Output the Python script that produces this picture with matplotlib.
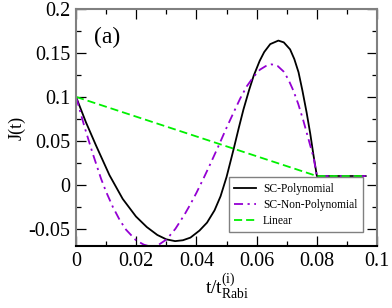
import numpy as np
import matplotlib
matplotlib.use("Agg")
import matplotlib.pyplot as plt
from matplotlib.ticker import MultipleLocator

plt.rcParams['font.family'] = ['Liberation Serif', 'DejaVu Serif']
plt.rcParams['mathtext.fontset'] = 'custom'
plt.rcParams['mathtext.rm'] = 'Liberation Serif'

# values
t_poly = [0, 0.0033, 0.0066, 0.0111, 0.0155, 0.0199, 0.0235, 0.0270, 0.0300,
          0.0329, 0.0355, 0.0380, 0.0410, 0.0435, 0.0460, 0.0480, 0.0500, 0.0523, 0.0540,
          0.0556, 0.0575, 0.0590, 0.0610, 0.0625, 0.0645, 0.0672, 0.0690, 0.0711, 0.0725,
          0.0739, 0.0752, 0.0766, 0.0778, 0.0789, 0.0800, 0.0962]
J_poly = [0.100, 0.071, 0.045, 0.011, -0.016, -0.036, -0.048, -0.057, -0.062,
          -0.064, -0.063, -0.060, -0.052, -0.043, -0.029, -0.013, 0.009, 0.040, 0.064,
          0.0856, 0.108, 0.124, 0.141, 0.151, 0.160, 0.164, 0.162, 0.154, 0.143,
          0.128, 0.107, 0.082, 0.058, 0.033, 0.010, 0.010]

t_nonpoly = [0, 0.0028, 0.0055, 0.0083, 0.0100, 0.0122, 0.0145, 0.0166, 0.0199, 0.0225,
             0.0250, 0.0275, 0.0301, 0.0330, 0.0360, 0.0380, 0.0400, 0.0423, 0.0445, 0.0473,
             0.0500, 0.0523, 0.0545, 0.0567, 0.0590, 0.0611, 0.0630, 0.0650, 0.0670, 0.0689,
             0.0705, 0.0722, 0.0738, 0.0755, 0.0772, 0.0789, 0.0800, 0.0962]
J_nonpoly = [0.100, 0.066, 0.036, 0.007, -0.008, -0.025, -0.040, -0.051, -0.063, -0.068,
             -0.0705, -0.068, -0.062, -0.050, -0.034, -0.022, -0.009, 0.007, 0.023, 0.044,
             0.065, 0.082, 0.098, 0.112, 0.123, 0.131, 0.135, 0.137, 0.135, 0.129,
             0.120, 0.107, 0.092, 0.073, 0.052, 0.031, 0.010, 0.010]

t_lin = [0, 0.08, 0.0962]
J_lin = [0.1, 0.01, 0.01]

fig = plt.figure(figsize=(3.92, 3.08), dpi=100)
ax = fig.add_axes([0.194, 0.2, 0.768, 0.771])

ax.plot(t_poly, J_poly, color='black', lw=1.3, label='SC-Polynomial')
ax.plot(t_nonpoly, J_nonpoly, color='#9400d3', lw=1.3,
        linestyle=(0, (5, 2.5, 1.2, 2.5)), label='SC-Non-Polynomial')
ax.plot(t_lin, J_lin, color='#00f000', lw=1.3, linestyle=(0, (4.5, 2.2)), label='Linear')

ax.set_xlim(0, 0.1)
ax.set_ylim(-0.07, 0.2)
ax.xaxis.set_minor_locator(MultipleLocator(0.01))
ax.yaxis.set_minor_locator(MultipleLocator(0.025))
ax.set_xticks([0, 0.02, 0.04, 0.06, 0.08, 0.1], labels=['0', '0.02', '0.04', '0.06', '0.08', '0.1'])
ax.set_yticks([-0.05, 0, 0.05, 0.1, 0.15, 0.2], labels=['-0.05', '0', '0.05', '0.1', '0.15', '0.2'])
ax.tick_params(which='both', direction='in', top=True, right=True, labelsize=14.5, width=0.9)
ax.tick_params(which='major', length=7, pad=4)
ax.tick_params(which='minor', length=3.5)
for side in ['left', 'top', 'right']:
    ax.spines[side].set_color('#808080')
    ax.spines[side].set_linewidth(1.5)
ax.spines['bottom'].set_linewidth(1.5)

ax.set_ylabel('J(t)', fontsize=13, labelpad=2)
ax.set_xlabel(r'$\mathrm{t/t_{Rabi}^{(i)}}$', fontsize=14, labelpad=0)
ax.text(0.006, 0.161, '(a)', fontsize=17)

leg = ax.legend(loc='lower left', bbox_to_anchor=(0.508, 0.061), borderaxespad=0,
                fancybox=False, edgecolor='#808080', fontsize=8.3, handlelength=1.9,
                handletextpad=0.6, framealpha=1, labelspacing=0.35, borderpad=0.45)
leg.get_frame().set_linewidth(1.0)

fig.savefig('out.png', dpi=100)
